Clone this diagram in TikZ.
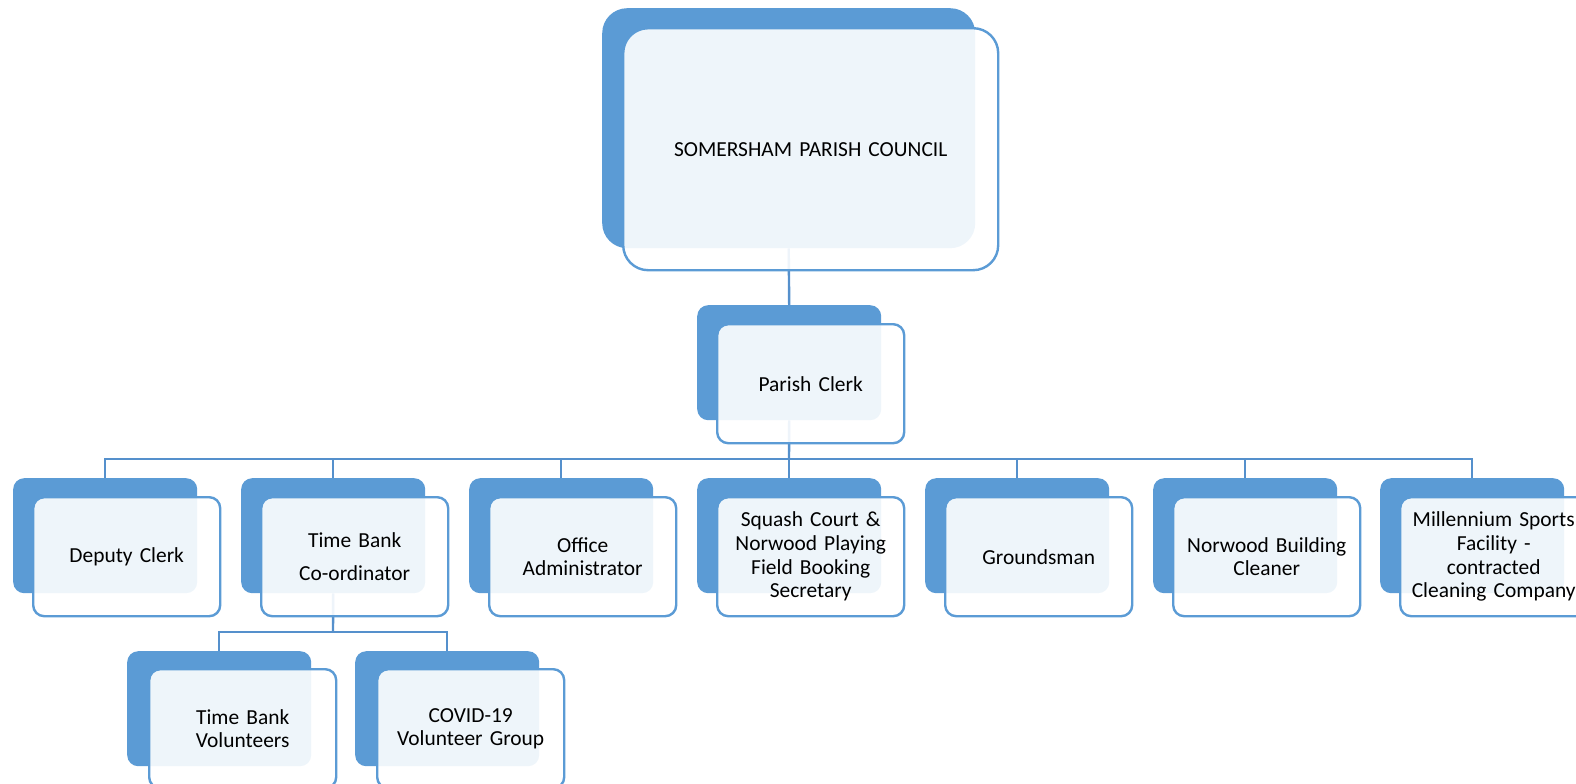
\documentclass[tikz,border=0pt]{standalone}
\usepackage{fontspec}
\setmainfont{Carlito}
\definecolor{acc}{HTML}{5B9BD5}
\definecolor{linkc}{HTML}{5590CC}
\begin{document}
\begin{tikzpicture}[x=1bp,y=-1bp,
 back/.style={fill=acc, rounded corners=11bp, minimum width=184bp, minimum height=115bp, inner sep=0pt, anchor=north west},
 front/.style={draw=acc, line width=2.4bp, fill=white, fill opacity=0.9, text opacity=1, rounded corners=11bp, minimum width=187bp, minimum height=119bp, inner sep=0pt, anchor=north west, align=center, text width=183bp, font=\fontsize{21.5}{23.8}\selectfont},
 link/.style={draw=linkc, line width=2.4bp}]
\useasboundingbox (0,0) rectangle (1576,784);
% back shapes
\node[back, minimum width=373bp, minimum height=240bp, rounded corners=25bp] (bTop) at (602,8) {};
\node[back] (bClerk) at (697,305) {};
\node[back] (bDep) at (13,478) {};
\node[back] (bTbc) at (241,478) {};
\node[back] (bOff) at (469,478) {};
\node[back] (bSq) at (697,478) {};
\node[back] (bGr) at (925,478) {};
\node[back] (bNor) at (1153,478) {};
\node[back] (bMil) at (1380,478) {};
\node[back] (bTbv) at (127,651) {};
\node[back] (bCov) at (355,651) {};
% connectors
\coordinate (bus) at (789,459);
\coordinate (bus2) at (333,632);
\draw[link] (bTop.south) -- (bClerk.north);
\draw[link] (bClerk.south) -- (bus);
\foreach \c in {bDep,bTbc,bOff,bSq,bGr,bNor,bMil}{\draw[link] (bus) -| (\c.north);}
\draw[link] (bTbc.south) -- (bus2);
\draw[link] (bus2) -| (bTbv.north);
\draw[link] (bus2) -| (bCov.north);
% front boxes
\node[front, minimum width=375bp, minimum height=242bp, text width=370bp, rounded corners=25bp] (fTop) at (622,27) {SOMERSHAM PARISH COUNCIL};
\node[front] (fClerk) at (716,323) {Parish Clerk};
\node[front] (fDep) at (32,496) {Deputy Clerk};
\node[front] (fTbc) at (260,496) {Time Bank\\[10bp]Co-ordinator};
\node[front] (fOff) at (488,496) {Office\\Administrator};
\node[front] (fSq) at (716,496) {Squash Court \&\\Norwood Playing\\Field Booking\\Secretary};
\node[front] (fGr) at (944,496) {Groundsman};
\node[front] (fNor) at (1172,496) {Norwood Building\\Cleaner};
\node[front] (fMil) at (1399,496) {Millennium Sports\\Facility -\\contracted\\Cleaning Company};
\node[front] (fTbv) at (148,668) {Time Bank\\Volunteers};
\node[front] (fCov) at (376,668) {COVID-19\\Volunteer Group};
\end{tikzpicture}
\end{document}
